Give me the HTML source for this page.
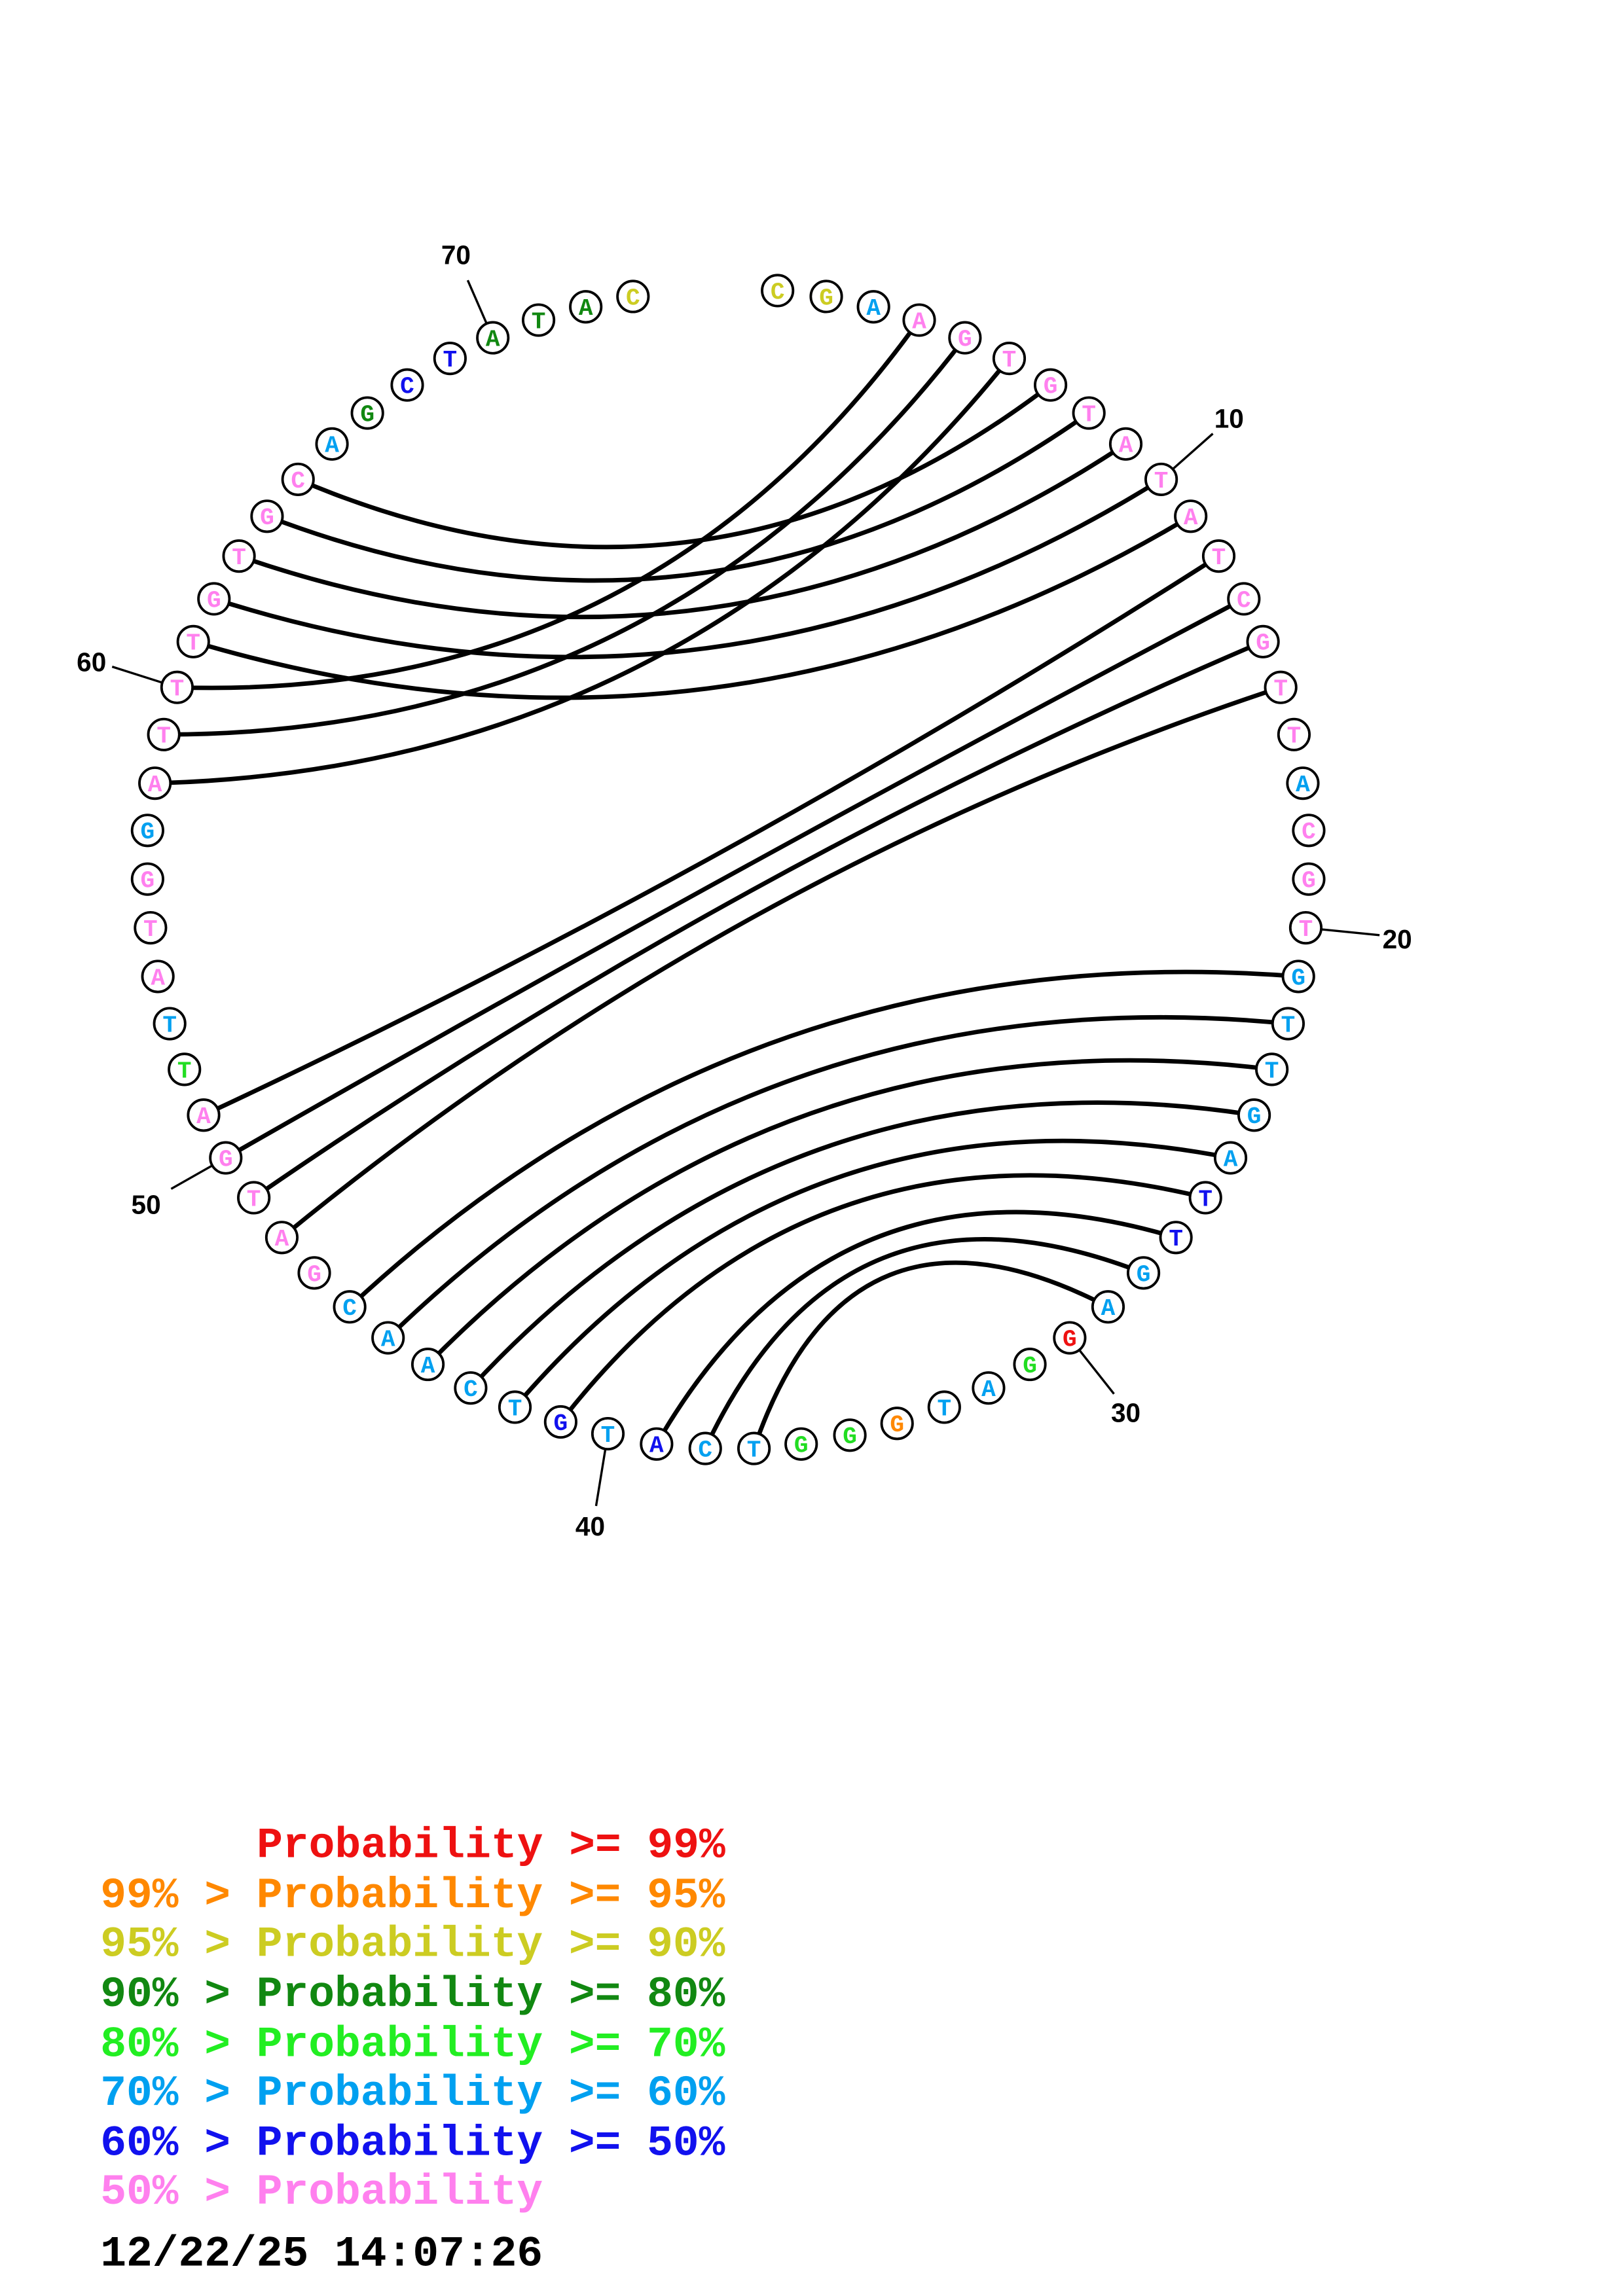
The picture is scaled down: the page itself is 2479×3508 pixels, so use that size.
<!DOCTYPE html>
<html><head><meta charset="utf-8"><style>
html,body{margin:0;padding:0;background:#fff;}
svg{display:block}
</style></head><body>
<svg id="s" width="2479" height="3508" viewBox="0 0 1100 1556.6" xmlns="http://www.w3.org/2000/svg">
<rect width="1100" height="1557" fill="#fff"/>
<g id="arcs" fill="none" stroke="#000" stroke-width="3"></g>
<g id="ticks" stroke="#000" stroke-width="1.5">
<line x1="334" y1="229" x2="317" y2="190"/>
<line x1="787" y1="325" x2="822" y2="294"/>
<line x1="885" y1="629" x2="935" y2="634"/>
<line x1="725" y1="907" x2="755" y2="945"/>
<line x1="412" y1="972" x2="404" y2="1021"/>
<line x1="153" y1="785" x2="116" y2="806"/>
<line x1="120" y1="466" x2="76" y2="452"/>
</g>
<g font-family="'Liberation Sans',sans-serif" font-weight="bold" font-size="18" text-anchor="middle" fill="#000">
<text x="309" y="179">70</text>
<text x="833" y="290">10</text>
<text x="947" y="643">20</text>
<text x="763" y="964">30</text>
<text x="400" y="1041">40</text>
<text x="99" y="823">50</text>
<text x="62" y="455">60</text>
</g>
<g id="nodes"></g>
<g font-family="'Liberation Mono',monospace" font-weight="bold" font-size="29.4">
<text x="174" y="1259" fill="#ee1111">Probability &gt;= 99%</text>
<text x="68" y="1293" fill="#ff8800">99% &gt; Probability &gt;= 95%</text>
<text x="68" y="1326" fill="#cccc22">95% &gt; Probability &gt;= 90%</text>
<text x="68" y="1360" fill="#118811">90% &gt; Probability &gt;= 80%</text>
<text x="68" y="1394" fill="#22ee22">80% &gt; Probability &gt;= 70%</text>
<text x="68" y="1427" fill="#00a0f0">70% &gt; Probability &gt;= 60%</text>
<text x="68" y="1461" fill="#1111ee">60% &gt; Probability &gt;= 50%</text>
<text x="68" y="1494" fill="#ff80ee">50% &gt; Probability</text>
<text x="68" y="1536" fill="#000">12/22/25 14:07:26</text>
</g>
</svg>
<script>
var N=[
[527,197,'C','y'],[560,201,'G','y'],[592,208,'A','s'],[623,217,'A','p'],[654,229,'G','p'],[684,243,'T','p'],[712,261,'G','p'],[738,280,'T','p'],[763,301,'A','p'],[787,325,'T','p'],
[807,350,'A','p'],[826,377,'T','p'],[843,406,'C','p'],[856,435,'G','p'],[868,466,'T','p'],[877,498,'T','p'],[883,531,'A','s'],[887,563,'C','p'],[887,596,'G','p'],[885,629,'T','p'],
[880,662,'G','s'],[873,694,'T','s'],[862,725,'T','s'],[850,756,'G','s'],[834,785,'A','s'],[817,812,'T','b'],[797,839,'T','b'],[775,863,'G','s'],[751,886,'A','s'],[725,907,'G','r'],
[698,925,'G','l'],[670,941,'A','s'],[640,954,'T','s'],[608,965,'G','o'],[576,973,'G','l'],[543,979,'G','l'],[511,982,'T','s'],[478,982,'C','s'],[445,979,'A','b'],[412,972,'T','s'],
[380,964,'G','b'],[349,954,'T','s'],[319,941,'C','s'],[290,925,'A','s'],[263,907,'A','s'],[237,886,'C','s'],[213,863,'G','p'],[191,839,'A','p'],[172,812,'T','p'],[153,785,'G','p'],
[138,756,'A','p'],[125,725,'T','l'],[115,694,'T','s'],[107,662,'A','p'],[102,629,'T','p'],[100,596,'G','p'],[100,563,'G','s'],[105,531,'A','p'],[111,498,'T','p'],[120,466,'T','p'],
[131,435,'T','p'],[145,406,'G','p'],[162,377,'T','p'],[181,350,'G','p'],[202,325,'C','p'],[225,301,'A','s'],[249,280,'G','d'],[276,261,'C','b'],[305,243,'T','b'],[334,229,'A','d'],
[365,217,'T','d'],[397,208,'A','d'],[429,201,'C','y']];
var C={y:'#cccc22',s:'#00a0f0',p:'#ff80ee',b:'#1111ee',r:'#ee1111',l:'#22dd22',o:'#ff8800',d:'#118811'};
var P=[[4,60],[5,59],[6,58],[7,65],[8,64],[9,63],[10,62],[11,61],[12,51],[13,50],[14,49],[15,48],[21,46],[22,45],[23,44],[24,43],[25,42],[26,41],[27,39],[28,38],[29,37]];
var cx=493.5,cy=590,ns='http://www.w3.org/2000/svg';
var ag=document.getElementById('arcs'),ng=document.getElementById('nodes');
P.forEach(function(p){
 var a=N[p[0]-1],b=N[p[1]-1];
 var mx=(a[0]+b[0])/2,my=(a[1]+b[1])/2;
 var d=Math.hypot(mx-cx,my-cy);
 var f=d>0?Math.max(0,d-150)/d:0;
 var qx=cx+(mx-cx)*f,qy=cy+(my-cy)*f;
 var el=document.createElementNS(ns,'path');
 el.setAttribute('d','M'+a[0]+' '+a[1]+'Q'+qx.toFixed(1)+' '+qy.toFixed(1)+' '+b[0]+' '+b[1]);
 ag.appendChild(el);
});
N.forEach(function(n){
 var c=document.createElementNS(ns,'circle');
 c.setAttribute('cx',n[0]);c.setAttribute('cy',n[1]);c.setAttribute('r',10.5);
 c.setAttribute('fill','#fff');c.setAttribute('stroke','#000');c.setAttribute('stroke-width','1.7');
 ng.appendChild(c);
 var t=document.createElementNS(ns,'text');
 t.setAttribute('x',n[0]);t.setAttribute('y',n[1]+5.5);t.setAttribute('text-anchor','middle');
 t.setAttribute('font-family',"'Liberation Mono',monospace");t.setAttribute('font-weight','bold');
 t.setAttribute('font-size','16');t.setAttribute('fill',C[n[3]]);t.textContent=n[2];
 ng.appendChild(t);
});
</script>
</body></html>
